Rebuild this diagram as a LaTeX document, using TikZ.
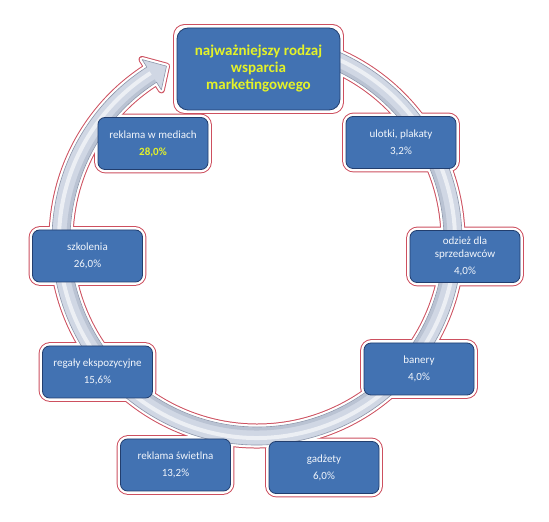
\documentclass[tikz,border=0pt]{standalone}
\usepackage{fontspec}
\setmainfont{Carlito}
\usetikzlibrary{positioning}
\definecolor{boxblue}{RGB}{66,114,178}
\definecolor{boxedge}{RGB}{34,62,110}
\definecolor{glowred}{RGB}{205,80,95}
\definecolor{txtyellow}{RGB}{228,242,40}
\definecolor{txtwhite}{RGB}{242,246,252}
\definecolor{ringgray}{RGB}{208,215,228}
\definecolor{ringedge}{RGB}{140,150,170}
\definecolor{ringshade}{RGB}{186,195,211}
\pgfdeclarelayer{glow}
\pgfdeclarelayer{gap}
\pgfsetlayers{glow,gap,main}

\begin{document}
\begin{tikzpicture}[x=1pt,y=1pt,
  box/.style={rectangle,draw=boxedge,line width=0.8pt,fill=boxblue,
    rounded corners=7pt,minimum width=110pt,minimum height=52pt,
    align=center,text=txtwhite,font=\fontsize{11}{13}\selectfont},
  mainbox/.style={box,minimum width=163pt,minimum height=82pt,
    rounded corners=11pt,text=txtyellow,font=\fontsize{15}{17}\selectfont\bfseries},
  glowline/.style={line width=7pt,draw=glowred,rounded corners=8pt},
  gapline/.style={line width=5pt,draw=white,rounded corners=8pt},
]
  \useasboundingbox (0,0) rectangle (549,522);
  % ring arrow
  \begin{scope}[shift={(257,282)}]
    \path[save path=\ringp] (100:205) arc[start angle=100,end angle=-237.5,radius=205]
      -- (-237.5:214) -- (-242.5:196) -- (-237.5:178) -- (-237.5:187)
      arc[start angle=-237.5,end angle=100,radius=187] -- cycle;
    \begin{pgfonlayer}{glow}
      \path[use path=\ringp,draw=glowred,line width=7pt,line join=round];
    \end{pgfonlayer}
    \begin{pgfonlayer}{gap}
      \path[use path=\ringp,draw=white,line width=5pt,line join=round];
    \end{pgfonlayer}
    \path[use path=\ringp,fill=ringgray];
    \draw[ringshade,line width=3pt] (100:189) arc[start angle=100,end angle=-237.5,radius=189];
    \draw[white,opacity=.6,line width=4pt] (100:198) arc[start angle=100,end angle=-237.5,radius=198];
    \path[use path=\ringp,draw=ringedge,line width=0.6pt,line join=round];
  \end{scope}

  \node[mainbox] (main)    at (258.5,453) {najważniejszy rodzaj\\wsparcia\\marketingowego};
  \node[box] (media)       at (153,378.5) {reklama w mediach\\[4pt]\textcolor{txtyellow}{\bfseries 28,0\%}};
  \node[box] (ulotki)      at (401,379.5) {ulotki, plakaty\\[4pt]3,2\%};
  \node[box] (szkolenia)   at (87.5,266)  {szkolenia\\[4pt]26,0\%};
  \node[box] (odziez)      at (465,265.5) {odzież dla\\sprzedawców\\[4pt]4,0\%};
  \node[box] (regaly)      at (97.5,150)  {regały ekspozycyjne\\[4pt]15,6\%};
  \node[box] (banery)      at (419,153)   {banery\\[4pt]4,0\%};
  \node[box] (swietlna)    at (175.5,57)  {reklama świetlna\\[4pt]13,2\%};
  \node[box] (gadzety)     at (324,54.5)  {gadżety\\[4pt]6,0\%};

  \foreach \n in {main,media,ulotki,szkolenia,odziez,regaly,banery,swietlna,gadzety}{
    \begin{pgfonlayer}{glow}
      \draw[glowline] (\n.south west) rectangle (\n.north east);
    \end{pgfonlayer}
    \begin{pgfonlayer}{gap}
      \draw[gapline] (\n.south west) rectangle (\n.north east);
    \end{pgfonlayer}
  }
\end{tikzpicture}
\end{document}
